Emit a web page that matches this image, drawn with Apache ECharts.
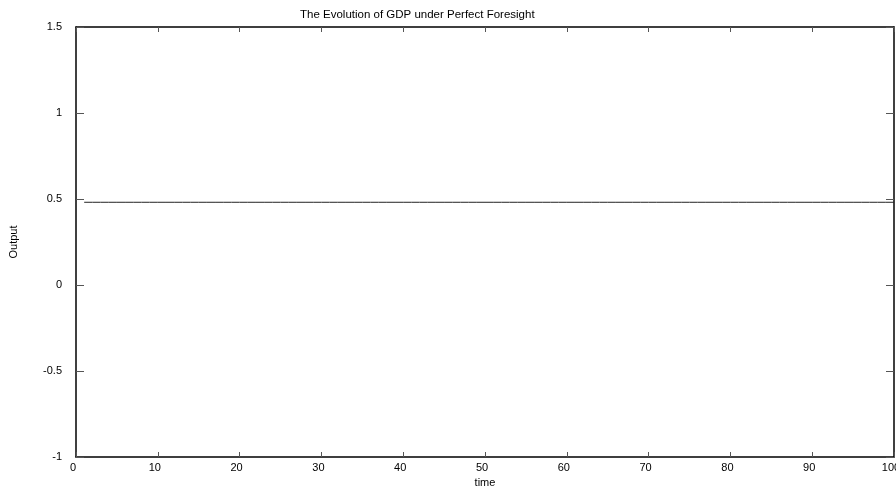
<!DOCTYPE html>
<html>
<head>
<meta charset="utf-8">
<script src="https://cdn.jsdelivr.net/npm/echarts@6/dist/echarts.min.js"></script>
<style>html,body{margin:0;padding:0;background:#fff}#c{width:896px;height:487px}</style>
</head>
<body>
<div id="c"></div>
<script>
const titleText = "The Evolution of GDP under Perfect Foresight";
const xName = "time";
const yName = "Output";
const time = [1,2,3,4,5,6,7,8,9,10,11,12,13,14,15,16,17,18,19,20,21,22,23,24,25,26,27,28,29,30,31,32,33,34,35,36,37,38,39,40,41,42,43,44,45,46,47,48,49,50,51,52,53,54,55,56,57,58,59,60,61,62,63,64,65,66,67,68,69,70,71,72,73,74,75,76,77,78,79,80,81,82,83,84,85,86,87,88,89,90,91,92,93,94,95,96,97,98,99,100];
const output = [0.481,0.481,0.481,0.481,0.481,0.481,0.481,0.481,0.481,0.481,0.481,0.481,0.481,0.481,0.481,0.481,0.481,0.481,0.481,0.481,0.481,0.481,0.481,0.481,0.481,0.481,0.481,0.481,0.481,0.481,0.481,0.481,0.481,0.481,0.481,0.481,0.481,0.481,0.481,0.481,0.481,0.481,0.481,0.481,0.481,0.481,0.481,0.481,0.481,0.481,0.481,0.481,0.481,0.481,0.481,0.481,0.481,0.481,0.481,0.481,0.481,0.481,0.481,0.481,0.481,0.481,0.481,0.481,0.481,0.481,0.481,0.481,0.481,0.481,0.481,0.481,0.481,0.481,0.481,0.481,0.481,0.481,0.481,0.481,0.481,0.481,0.481,0.481,0.481,0.481,0.481,0.481,0.481,0.481,0.481,0.481,0.481,0.481,0.481,0.481];

const font = "'Liberation Sans', Arial, sans-serif";
const chart = echarts.init(document.getElementById('c'), null, {renderer: 'canvas'});
const axisLine = {show: true, onZero: false, lineStyle: {color: '#000', width: 1.5}};
chart.setOption({
  backgroundColor: '#fff',
  animation: false,
  title: {
    text: titleText, left: 295, top: 4,
    textStyle: {fontFamily: font, fontSize: 11.5, fontWeight: 'normal', color: '#000'}
  },
  grid: {left: 76, right: 2, top: 27, bottom: 30, containLabel: false, outerBoundsMode: 'none'},
  xAxis: [{
    type: 'value', min: 0, max: 100, interval: 10, position: 'bottom',
    name: xName, nameLocation: 'middle', nameGap: 17,
    nameTextStyle: {fontFamily: font, fontSize: 11, color: '#000'},
    axisLine: axisLine,
    axisTick: {show: true, inside: true, length: 5, lineStyle: {color: '#555', width: 1}},
    axisLabel: {fontFamily: font, fontSize: 11, color: '#000', margin: 5, padding: [0, 6, 0, 0]},
    splitLine: {show: false}
  }, {
    type: 'value', min: 0, max: 100, interval: 10, position: 'top',
    axisLine: axisLine,
    axisTick: {show: true, inside: true, length: 5, lineStyle: {color: '#555', width: 1}},
    axisLabel: {show: false}, splitLine: {show: false}
  }],
  yAxis: [{
    type: 'value', min: -1, max: 1.5, interval: 0.5, position: 'left',
    name: yName, nameLocation: 'middle', nameGap: 57, nameRotate: 90,
    nameTextStyle: {fontFamily: font, fontSize: 11, color: '#000'},
    axisLine: axisLine,
    axisTick: {show: true, inside: true, length: 8, lineStyle: {color: '#555', width: 1}},
    axisLabel: {fontFamily: font, fontSize: 11, color: '#000', margin: 14},
    splitLine: {show: false}
  }, {
    type: 'value', min: -1, max: 1.5, interval: 0.5, position: 'right',
    axisLine: axisLine,
    axisTick: {show: true, inside: true, length: 8, lineStyle: {color: '#555', width: 1}},
    axisLabel: {show: false}, splitLine: {show: false}
  }],
  series: [{
    type: 'line', xAxisIndex: 0, yAxisIndex: 0,
    data: time.map((t, i) => [t, output[i]]),
    symbol: 'none', lineStyle: {color: '#222', width: 1}
  }]
});
</script>
</body>
</html>
